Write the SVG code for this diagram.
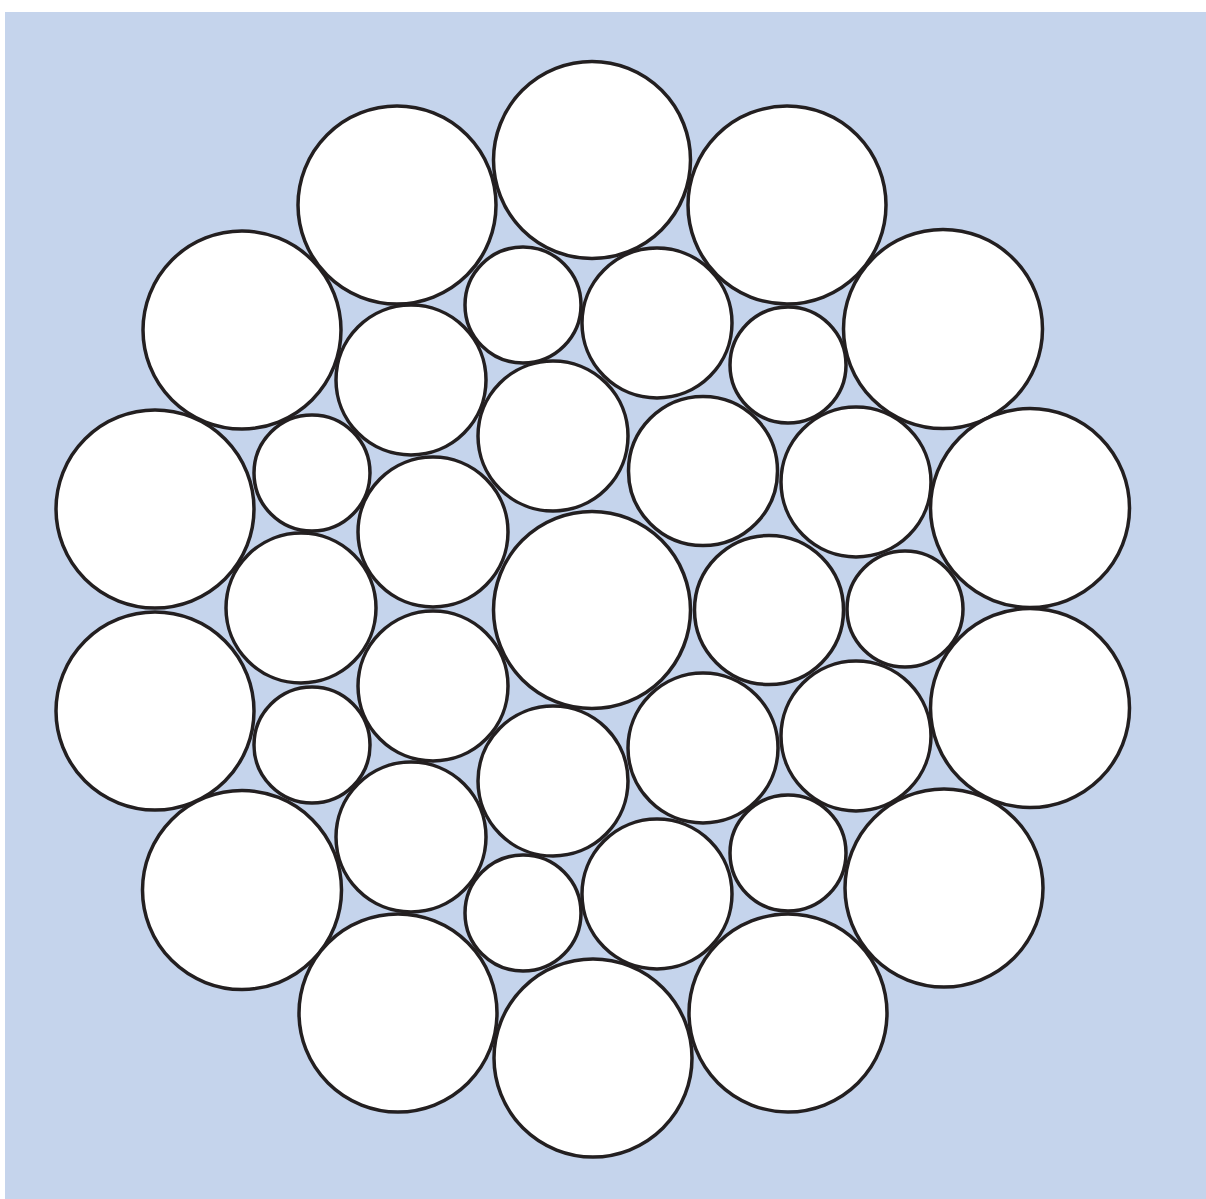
<svg xmlns="http://www.w3.org/2000/svg" width="1206" height="1199" viewBox="0 0 1206 1199">
<style>
.w{fill:#fff;stroke:#231f20;stroke-width:3.5}
</style>
<rect x="0" y="0" width="1206" height="1199" fill="#fff"/>
<rect x="5" y="12" width="1201" height="1187" fill="#c5d4ec"/>
<g id="large">
<circle class="w" cx="592" cy="160" r="98.5"/>
<circle class="w" cx="397" cy="205" r="99"/>
<circle class="w" cx="787" cy="205" r="99"/>
<circle class="w" cx="242" cy="330" r="99"/>
<circle class="w" cx="943" cy="329" r="99.5"/>
<circle class="w" cx="155" cy="509" r="99"/>
<circle class="w" cx="1030" cy="508" r="99.5"/>
<circle class="w" cx="155" cy="711" r="99"/>
<circle class="w" cx="1030" cy="708" r="99.5"/>
<circle class="w" cx="242" cy="890" r="99.5"/>
<circle class="w" cx="944" cy="888" r="99"/>
<circle class="w" cx="398" cy="1013" r="99"/>
<circle class="w" cx="788" cy="1013" r="99"/>
<circle class="w" cx="593" cy="1058" r="99"/>
<circle class="w" cx="592" cy="610" r="98.5"/>
</g>
<g id="medium">
<circle class="w" cx="411" cy="380" r="75"/>
<circle class="w" cx="657" cy="323" r="75"/>
<circle class="w" cx="553" cy="436" r="75"/>
<circle class="w" cx="703" cy="471" r="74.5"/>
<circle class="w" cx="856" cy="482" r="75"/>
<circle class="w" cx="433" cy="532" r="75"/>
<circle class="w" cx="301" cy="608" r="75"/>
<circle class="w" cx="769" cy="610" r="74.5"/>
<circle class="w" cx="433" cy="686" r="75"/>
<circle class="w" cx="703" cy="748" r="75"/>
<circle class="w" cx="856" cy="736" r="75"/>
<circle class="w" cx="553" cy="781" r="75"/>
<circle class="w" cx="411" cy="837" r="75"/>
<circle class="w" cx="657" cy="894" r="75"/>
</g>
<g id="small">
<circle class="w" cx="523" cy="305" r="58"/>
<circle class="w" cx="788" cy="365" r="58"/>
<circle class="w" cx="312" cy="473" r="58"/>
<circle class="w" cx="905" cy="609" r="58"/>
<circle class="w" cx="312" cy="745" r="58"/>
<circle class="w" cx="788" cy="853" r="58"/>
<circle class="w" cx="523" cy="913" r="58"/>
</g>
</svg>
